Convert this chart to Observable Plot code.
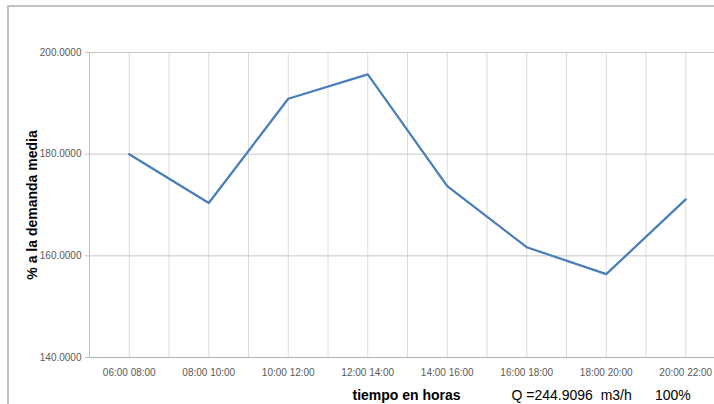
<!DOCTYPE html>
<html>
<head>
<meta charset="utf-8">
<script src="https://cdn.jsdelivr.net/npm/d3@7"></script>
<script src="https://cdn.jsdelivr.net/npm/@observablehq/plot@0.6"></script>
<style>
  html, body { margin: 0; padding: 0; background: #fff; }
  #wrap { position: relative; width: 714px; height: 404px; overflow: hidden; font-family: "Liberation Sans", Arial, sans-serif; }
  #border { position: absolute; left: 7px; top: 5px; width: 800px; height: 500px; border-left: 2px solid #c3c3c3; border-top: 2px solid #c3c3c3; pointer-events: none; }
  #chart { position: absolute; left: 0; top: 0; }
  .cap { position: absolute; top: 388px; font-size: 14px; line-height: 14px; color: #000; white-space: pre; }
</style>
</head>
<body>
<div id="wrap">
  <div id="border"></div>
  <div id="chart"></div>
  <span class="cap" id="xtitle" style="left:352.5px;font-weight:bold;"></span>
  <span class="cap" id="qtext" style="left:511.5px;"></span>
  <span class="cap" id="pct" style="left:655px;"></span>
</div>
<script>
const labels = ["06:00 08:00", "08:00 10:00", "10:00 12:00", "12:00 14:00", "14:00 16:00", "16:00 18:00", "18:00 20:00", "20:00 22:00"];
const values = [180.0, 170.4, 190.9, 195.7, 173.7, 161.7, 156.4, 171.1];
const yTicks = [140, 160, 180, 200];
const yTitle = "% a la demanda media";
const xTitle = "tiempo en horas";
const qText = "Q =244.9096  m3/h";
const pctText = "100%";

const data = labels.map((label, i) => ({ i, label, value: values[i] }));
const xDomain = [-0.5, labels.length - 0.5];
const yDomain = [yTicks[0], yTicks[yTicks.length - 1]];
const gridX = d3.range(0, labels.length, 0.5);

const chart = Plot.plot({
  width: 714,
  height: 382,
  marginLeft: 89,
  marginRight: -11,
  marginTop: 52,
  marginBottom: 25,
  style: { fontFamily: "'Liberation Sans', Arial, sans-serif", fontSize: "10px", color: "#595959", background: "transparent" },
  x: { type: "linear", domain: xDomain, label: null },
  y: { domain: yDomain, label: null },
  marks: [
    Plot.ruleX(gridX, { stroke: "#dcdcdc", strokeWidth: 1 }),
    Plot.ruleY(yTicks.slice(1), { stroke: "#c8c8c8", strokeWidth: 1 }),
    Plot.ruleX([xDomain[0]], { stroke: "#c0c0c0", strokeWidth: 1 }),
    Plot.ruleY([yDomain[0]], { stroke: "#b0b0b0", strokeWidth: 1 }),
    Plot.axisY({ ticks: yTicks, tickFormat: d3.format(".4f"), tickSize: 4, tickPadding: 4, stroke: "#c0c0c0", fontSize: 10, label: null }),
    Plot.axisX({ ticks: d3.range(labels.length), tickFormat: i => labels[i], tickSize: 0, tickPadding: 11, fontSize: 10, label: null }),
    Plot.line(data, { x: "i", y: "value", stroke: "#4a7ebb", strokeWidth: 2.25 }),
    Plot.text([yTitle], { frameAnchor: "left", text: d => d, rotate: -90, textAnchor: "middle", dx: -57, fontSize: 14, fontWeight: "bold", fill: "#000" })
  ]
});
document.getElementById("chart").appendChild(chart);
document.getElementById("xtitle").textContent = xTitle;
document.getElementById("qtext").textContent = qText;
document.getElementById("pct").textContent = pctText;
</script>
</body>
</html>
